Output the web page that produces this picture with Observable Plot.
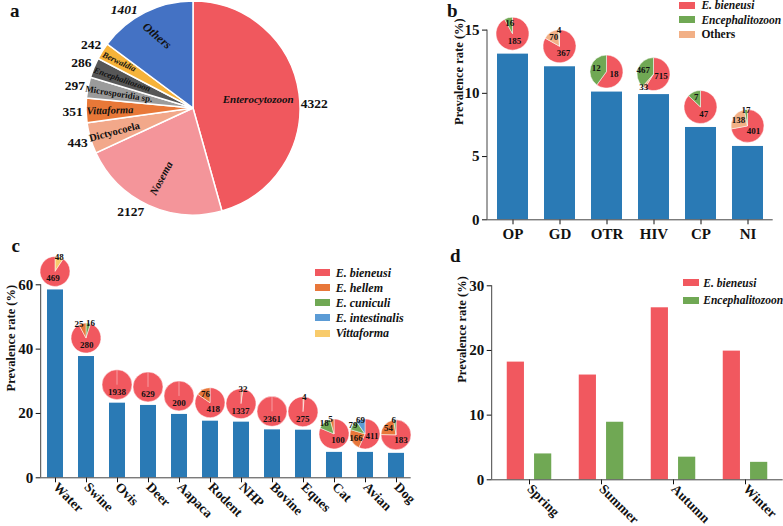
<!DOCTYPE html>
<html><head><meta charset="utf-8">
<script src="https://cdn.jsdelivr.net/npm/d3@7"></script>
<script src="https://cdn.jsdelivr.net/npm/@observablehq/plot@0.6"></script>
<style>
html,body{margin:0;padding:0;background:#fff;}
#fig{position:relative;width:783px;height:526px;overflow:hidden;font-family:"Liberation Serif","Times New Roman",serif;font-weight:bold;color:#111;}
.panel{position:absolute;}
.panel svg{overflow:visible;font-family:"Liberation Serif","Times New Roman",serif;font-weight:bold;}
[aria-label^="y-axis"] text{font-size:15px;font-family:"Liberation Serif",serif;font-weight:bold;}
.letter{position:absolute;font-size:19px;font-weight:bold;line-height:1;}
.legend{position:absolute;}
.legend .row{position:absolute;left:0;white-space:nowrap;display:flex;align-items:center;height:12px;line-height:12px;}
.legend .sw{display:inline-block;}
</style></head><body><div id="fig"></div>
<script>
// ---------- Data ----------
// Panel a
const aGenera = ["Enterocytozoon","Nosema","Dictyocoela","Vittaforma","Microsporidia sp.","Encephalitozoon","Berwaldia","Others"];
const aCounts = [4322,2127,443,351,297,286,242,1401];
// Panel b
const bGroups = ["OP","GD","OTR","HIV","CP","NI"];
const bPrevalence = [13.1,12.1,10.1,9.9,7.3,5.8];
const bSpecies = ["E. bieneusi","Encephalitozoon","Others"];
const bBieneusi = [185,367,18,715,47,401];
const bOthers = [0,70,0,33,0,138];
const bEncephalitozoon = [16,4,12,467,7,17];
// Panel c
const cHosts = ["Water","Swine","Ovis","Deer","Aapaca","Rodent","NHP","Bovine","Eques","Cat","Avian","Dog"];
const cPrevalence = [58.4,37.7,23.2,22.5,19.7,17.6,17.3,14.9,14.8,7.9,7.9,7.6];
const cSpecies = ["E. bieneusi","E. hellem","E. cuniculi","E. intestinalis","Vittaforma"];
const cBieneusi = [469,280,1938,629,200,418,1337,2361,275,100,411,183];
const cHellem = [0,25,0,0,0,76,32,0,4,5,166,54];
const cCuniculi = [0,16,0,0,0,0,0,0,0,18,79,6];
const cIntestinalis = [0,0,0,0,0,0,0,0,0,0,69,0];
const cVittaforma = [48,0,0,0,0,0,0,0,0,0,0,0];
// clockwise slice order (from 12 o'clock) where it differs from the legend order
const cOrder = {
  "Water": ["Vittaforma","E. bieneusi"],
  "Swine": ["E. cuniculi","E. bieneusi","E. hellem"],
  "NHP": ["E. hellem","E. bieneusi"],
  "Eques": ["E. hellem","E. bieneusi"],
  "Cat": ["E. bieneusi","E. cuniculi","E. hellem"]
};
// Panel d
const dSeasons = ["Spring","Summer","Autumn","Winter"];
const dSeries = ["E. bieneusi","Encephalitozoon"];
const dBieneusi = [18.2,16.2,26.6,19.9];
const dEncephalitozoon = [4.0,8.9,3.5,2.7];

// ---------- Styles ----------
const RED = "#F1585F", BAR = "#2A7AB5", GREEN = "#70A854", PEACH = "#F2B086",
      ORANGE = "#E8773A", IBLUE = "#5B9BD5", YELLOW = "#F8CB6B", AXIS = "#444";
const aColors = ["#F0585E","#F4959A","#F2A88A","#E87838","#9B9B9B","#575757","#F6B33A","#4472C4"];
const bColors = {"E. bieneusi": RED, "Encephalitozoon": GREEN, "Others": PEACH};
const cColors = {"E. bieneusi": RED, "E. hellem": ORANGE, "E. cuniculi": GREEN, "E. intestinalis": IBLUE, "Vittaforma": YELLOW};
const dColors = {"E. bieneusi": RED, "Encephalitozoon": GREEN};
// label placement: f = fraction of radius, rot = rotation, oaDeg = optional outer-label angle
const aLabelStyle = {
  "Enterocytozoon": {f:0.61, rot:0, it:true, fs:11, oaDeg:87.7},
  "Nosema": {f:0.72, rot:-62, it:true, fs:11, oaDeg:211.3},
  "Dictyocoela": {f:0.77, rot:-15, it:false, fs:10.5},
  "Vittaforma": {f:0.78, rot:-2, it:true, fs:10.5},
  "Microsporidia sp.": {f:0.71, rot:9, it:false, fs:9},
  "Encephalitozoon": {f:0.72, rot:19, it:true, fs:8.5},
  "Berwaldia": {f:0.82, rot:25, it:true, fs:8.5},
  "Others": {f:0.76, rot:40, it:true, fs:12, oaDeg:325}
};
const FONT = {background:"transparent", overflow:"visible", fontFamily:"Liberation Serif, serif", fontWeight:"bold", color:"#111"};

const fig = document.getElementById("fig");
function place(node, left, top) {
  const d = document.createElement("div");
  d.className = "panel"; d.style.left = left + "px"; d.style.top = top + "px";
  d.appendChild(node); fig.appendChild(d);
}
function letter(t, left, top) {
  const d = document.createElement("div");
  d.className = "letter"; d.textContent = t; d.style.left = left + "px"; d.style.top = top + "px";
  fig.appendChild(d);
}
function legend(items, colors, left, top, gap, sw, swGap, fs, italicFn) {
  const box = document.createElement("div");
  box.className = "legend"; box.style.left = left + "px"; box.style.top = top + "px"; box.style.fontSize = fs + "px";
  items.forEach((name, i) => {
    const row = document.createElement("div");
    row.className = "row"; row.style.top = (i * gap) + "px";
    const s = document.createElement("span");
    s.className = "sw"; s.style.width = sw + "px"; s.style.height = "7px"; s.style.marginRight = swGap + "px"; s.style.background = colors[name];
    const t = document.createElement("span");
    t.textContent = name; t.style.fontStyle = italicFn(name) ? "italic" : "normal";
    row.appendChild(s); row.appendChild(t); box.appendChild(row);
  });
  fig.appendChild(box);
}

// vertical y axis line from 0 to top of domain
const yAxisLine = (top) => (index, scales, values, dims) =>
  d3.create("svg:line").attr("x1", dims.marginLeft).attr("x2", dims.marginLeft)
    .attr("y1", scales.y(0)).attr("y2", scales.y(top)).attr("stroke", AXIS).node();

// small pies on top of bars
function pieMark(rows, r, gap, colors, smallFrac, spread) {
  const fracOf = a => (a.endAngle - a.startAngle) / (2 * Math.PI);
  const kOf = a => { const f = fracOf(a); return f < smallFrac ? 1.0 : f < 0.5 ? 0.66 : 0.48; };
  const midOf = a => (a.startAngle + a.endAngle) / 2;
  return (index, scales) => {
    const x = scales.x, y = scales.y;
    const bw = typeof x.bandwidth === "function" ? x.bandwidth() : (x.bandwidth || 0);
    const g = d3.create("svg:g");
    const arc = d3.arc().innerRadius(0).outerRadius(r);
    for (const row of rows) {
      const cx = x(row.key) + bw / 2, cy = y(row.value) + gap;
      const arcs = d3.pie().sort(null).value(s => s[1])(row.slices);
      const gg = g.append("g").attr("transform", `translate(${cx},${cy})`);
      gg.selectAll("path").data(arcs).join("path").attr("d", arc)
        .attr("fill", a => colors[a.data[0]]).attr("stroke", "#fff").attr("stroke-width", 0.5);
      if (arcs.length === 1) gg.append("line").attr("x1", 0).attr("y1", 0).attr("x2", 0).attr("y2", -r)
        .attr("stroke", "#fff").attr("stroke-opacity", 0.7).attr("stroke-width", 0.6);
      gg.selectAll("text").data(arcs).join("text")
        .attr("text-anchor", "middle").attr("dy", "0.35em").attr("font-size", 9).attr("fill", "#111")
        .attr("x", a => Math.sin(midOf(a)) * r * kOf(a) * (fracOf(a) < 0.08 ? spread : 1))
        .attr("y", a => -Math.cos(midOf(a)) * r * kOf(a))
        .text(a => a.data[1]);
    }
    return g.node();
  };
}

// ---------- Panel a ----------
const aPie = d3.pie().sort(null).value(d => d)(aCounts);
const aTable = aGenera.map((g, i) => {
  const st = aLabelStyle[g];
  const mid = (aPie[i].startAngle + aPie[i].endAngle) / 2;
  const oa = st.oaDeg != null ? st.oaDeg * Math.PI / 180 : mid;
  return {...st, genus: g, count: aCounts[i], mid, oa};
});
const plotA = Plot.plot({
  width: 400, height: 250, marginLeft: 86, marginRight: 100, marginTop: 1, marginBottom: 35,
  x: {domain: [-1, 1], axis: null}, y: {domain: [-1, 1], axis: null},
  style: FONT,
  marks: [
    (index, scales) => {
      const cx = scales.x(0), cy = scales.y(0), R = scales.x(1) - scales.x(0);
      const g = d3.create("svg:g").attr("transform", `translate(${cx},${cy})`);
      g.selectAll("path").data(aPie).join("path").attr("d", d3.arc().innerRadius(0).outerRadius(R))
        .attr("fill", (d, i) => aColors[i]).attr("stroke", "#fff").attr("stroke-width", 1.5);
      return g.node();
    },
    Plot.text(aTable.filter(d => d.it), {x: d => Math.sin(d.mid) * d.f, y: d => Math.cos(d.mid) * d.f, text: "genus", rotate: "rot", fontSize: "fs", fontStyle: "italic", fill: "#111"}),
    Plot.text(aTable.filter(d => !d.it), {x: d => Math.sin(d.mid) * d.f, y: d => Math.cos(d.mid) * d.f, text: "genus", rotate: "rot", fontSize: "fs", fill: "#111"}),
    Plot.text(aTable.filter(d => d.genus !== "Others"), {x: d => Math.sin(d.oa) * 1.13, y: d => Math.cos(d.oa) * 1.13, text: d => String(d.count), fontSize: 13.5, fill: "#111"}),
    Plot.text(aTable.filter(d => d.genus === "Others"), {x: d => Math.sin(d.oa) * 1.13, y: d => Math.cos(d.oa) * 1.13, text: d => String(d.count), fontSize: 13.5, fontStyle: "italic", fill: "#111"})
  ]
});
place(plotA, 0, 0);

// ---------- Panel b ----------
const bTable = bGroups.map((g, i) => ({
  key: g, value: bPrevalence[i],
  slices: [["E. bieneusi", bBieneusi[i]], ["Others", bOthers[i]], ["Encephalitozoon", bEncephalitozoon[i]]].filter(s => s[1] > 0)
}));
const plotB = Plot.plot({
  width: 383, height: 255, marginLeft: 87, marginRight: 10.3, marginTop: 29.6, marginBottom: 35.7,
  x: {domain: bGroups, paddingInner: 0.34, paddingOuter: 0.2, tickSize: 5, tickFormat: () => "", label: null},
  y: {domain: [0, 15], ticks: [0, 5, 10, 15], tickSize: 5, tickPadding: 3, label: null},
  style: FONT,
  marks: [
    Plot.barY(bTable, {x: "key", y: "value", fill: BAR}),
    Plot.ruleY([0], {stroke: AXIS}),
    yAxisLine(15),
    Plot.text(bGroups, {x: d => d, text: d => d, frameAnchor: "bottom", dy: 19, fontSize: 15, fill: "#111"}),
    Plot.text(["Prevalence rate (%)"], {frameAnchor: "left", rotate: -90, dx: -29, fontSize: 12.5, fill: "#111"}),
    pieMark(bTable, 16.5, -20, bColors, 0.05, 1)
  ]
});
place(plotB, 400, 0);

// ---------- Panel c ----------
const cCounts = {"E. bieneusi": cBieneusi, "E. hellem": cHellem, "E. cuniculi": cCuniculi, "E. intestinalis": cIntestinalis, "Vittaforma": cVittaforma};
const cTable = cHosts.map((h, i) => ({
  key: h, value: cPrevalence[i],
  slices: (cOrder[h] || cSpecies).map(s => [s, cCounts[s][i]]).filter(s => s[1] > 0)
}));
const plotC = Plot.plot({
  width: 460, height: 271, marginLeft: 40.7, marginRight: 49.3, marginTop: 29.3, marginBottom: 48.7,
  x: {domain: cHosts, paddingInner: 0.485, paddingOuter: 0.19, tickSize: 5, tickFormat: () => "", label: null},
  y: {domain: [0, 60], ticks: [0, 20, 40, 60], tickSize: 5, tickPadding: 3, label: null},
  style: FONT,
  marks: [
    Plot.barY(cTable, {x: "key", y: "value", fill: BAR}),
    Plot.ruleY([0], {stroke: AXIS}),
    yAxisLine(60),
    Plot.text(cHosts, {x: d => d, text: d => d, frameAnchor: "bottom", rotate: 45, textAnchor: "start", dx: -3, dy: 10, fontSize: 13.5, fill: "#111"}),
    Plot.text(["Prevalence rate (%)"], {frameAnchor: "top-left", rotate: -90, textAnchor: "end", dx: -34.7, fontSize: 12.5, fill: "#111"}),
    pieMark(cTable, 15, -18, cColors, 0.15, 1.9)
  ]
});
place(plotC, 0, 255);

// ---------- Panel d ----------
const dTable = dSeasons.map((s, i) => ({season: s, bieneusi: dBieneusi[i], enceph: dEncephalitozoon[i]}));
const plotD = Plot.plot({
  width: 343, height: 271, marginLeft: 51.7, marginRight: 0.3, marginTop: 30.3, marginBottom: 46.7,
  x: {domain: dSeasons, padding: 0, tickSize: 5, tickFormat: () => "", label: null},
  y: {domain: [0, 30], ticks: [0, 10, 20, 30], tickSize: 5, tickPadding: 3, label: null},
  style: FONT,
  marks: [
    Plot.barY(dTable, {x: "season", y: "bieneusi", fill: dColors["E. bieneusi"], insetLeft: 27.4, insetRight: 27.4, dx: -13.65}),
    Plot.barY(dTable, {x: "season", y: "enceph", fill: dColors["Encephalitozoon"], insetLeft: 27.4, insetRight: 27.4, dx: 13.65}),
    Plot.ruleY([0], {stroke: AXIS}),
    yAxisLine(30),
    Plot.text(dSeasons, {x: d => d, text: d => d, frameAnchor: "bottom", rotate: 45, textAnchor: "start", dx: -3, dy: 10, fontSize: 13.5, fill: "#111"}),
    Plot.text(["Prevalence rate (%)"], {frameAnchor: "left", rotate: -90, dx: -30, fontSize: 12.5, fill: "#111"})
  ]
});
place(plotD, 440, 255);

// ---------- Legends & letters ----------
legend(bSpecies, bColors, 679, -1, 14.6, 16, 6.4, 11.5, n => n !== "Others");
legend(cSpecies, cColors, 315, 266.7, 15.1, 14.7, 6, 12, n => true);
legend(dSeries, dColors, 683, 276.7, 17.6, 16.3, 4, 11.5, n => true);
letter("a", 10, 0.5);
letter("b", 447, 1);
letter("c", 11.5, 235.5);
letter("d", 450, 246);
</script></body></html>
